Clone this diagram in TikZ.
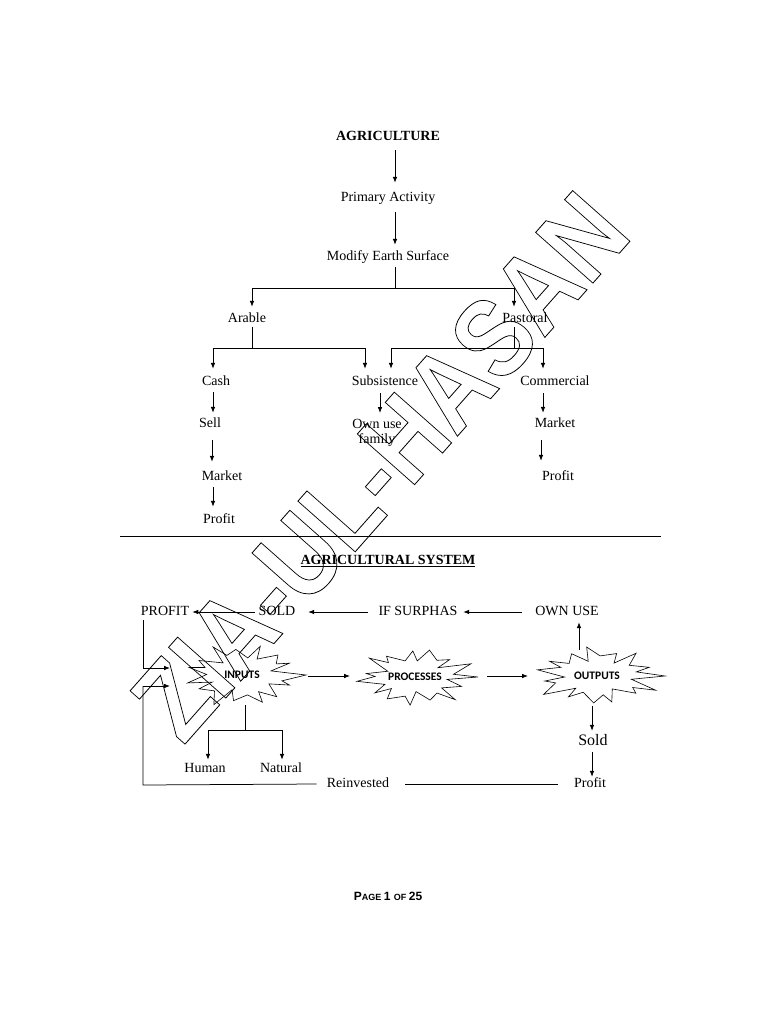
\documentclass[tikz,border=0pt]{standalone}
\usepackage{fontspec}
\setmainfont{Liberation Serif}
\newfontfamily\burstfont{Carlito}
\newfontfamily\wmfont{Liberation Sans}
\usetikzlibrary{arrows.meta,calc}
\tikzset{
  lbl/.style={font=\fontsize{14}{15}\selectfont, inner sep=0pt, text height=10pt, text depth=3pt},
  ttl/.style={lbl, font=\bfseries\fontsize{14}{15}\selectfont},
  ln/.style={line width=0.75pt, draw=black},
  arr/.style={ln, -{Latex[length=6pt,width=4.6pt]}},
  bline/.style={line width=0.6pt, draw=black, line join=miter},
  btext/.style={font=\burstfont\bfseries\fontsize{11.5}{13}\selectfont, inner sep=0pt},
}
% irregular starburst outline: #1 centre, #2 x radius, #3 y radius, #4 phase
\newcommand\drawburst[4]{%
  \draw[bline] ([shift={(0:#2 and #3)}]#1)
    \foreach \k [evaluate=\k as \ang using {\k*360/30+4*sin(\k*97+#4)},
                 evaluate=\k as \fac using {mod(\k,2)==1 ? 0.56+0.09*sin(\k*71+#4) : 1-0.22*abs(sin(\k*53+#4))}]
      in {1,...,29} { -- ([shift={(\ang:{#2*\fac} and {#3*\fac})}]#1) } -- cycle;
}
\begin{document}
\begin{tikzpicture}[x=1pt,y=-1pt]
\useasboundingbox (0,0) rectangle (768,1024);
\fill[white] (0,0) rectangle (768,1024);

% ---------- top tree ----------
\node[ttl] (agri) at (388,137) {AGRICULTURE};
\node[lbl] (prim) at (388,198) {Primary Activity};
\node[lbl] (mod) at (388,257) {Modify Earth Surface};
\node[lbl] (arable) at (247,319) {Arable};
\node[lbl] (past) at (525,319) {Pastoral};
\node[lbl] (cash) at (216,382) {Cash};
\node[lbl] (subs) at (385,382) {Subsistence};
\node[lbl] (comm) at (555,382) {Commercial};
\node[lbl] (sell) at (210,424) {Sell};
\node[font=\fontsize{14}{15}\selectfont, inner sep=0pt, align=center, anchor=north] (own) at (377,419) {Own use\\family};
\node[lbl] (mkt1) at (222,477) {Market};
\node[lbl] (prof1) at (219,520) {Profit};
\node[lbl] (mkt2) at (555,424) {Market};
\node[lbl] (prof2) at (558,477) {Profit};

\coordinate (j1) at (395,288);
\coordinate (j2) at (252,348);
\coordinate (j3) at (514,348);

\draw[arr] ([xshift=7pt,yshift=-6.5pt]agri.south) -- ([xshift=7pt,yshift=8.5pt]prim.north);
\draw[arr] ([xshift=7pt,yshift=-7.5pt]prim.south) -- ([xshift=7pt,yshift=5.5pt]mod.north);
\draw[ln] ([xshift=7pt,yshift=-3.5pt]mod.south) -- (j1);
\draw[arr] (j1) -| ([xshift=5pt,yshift=5.5pt]arable.north);
\draw[arr] (j1) -| ([xshift=-11pt,yshift=5.5pt]past.north);
\draw[ln] ([xshift=5pt,yshift=-1.5pt]arable.south) -- (j2);
\draw[arr] (j2) -| ([xshift=-3pt,yshift=6.5pt]cash.north);
\draw[arr] (j2) -| ([xshift=-20pt,yshift=6.5pt]subs.north);
\draw[ln] ([xshift=-11pt,yshift=-1.5pt]past.south) -- (j3);
\draw[arr] (j3) -| ([xshift=6pt,yshift=6.5pt]subs.north);
\draw[arr] (j3) -| ([xshift=-12pt,yshift=6.5pt]comm.north);
\draw[arr] ([xshift=-3pt,yshift=-3.5pt]cash.south) -- ([xshift=3pt,yshift=4.5pt]sell.north);
\draw[arr] ([xshift=2pt,yshift=-9.5pt]sell.south) -- ([xshift=-10pt,yshift=8.5pt]mkt1.north);
\draw[arr] ([xshift=-9pt,yshift=-3.5pt]mkt1.south) -- ([xshift=-6pt,yshift=6.5pt]prof1.north);
\draw[arr] ([xshift=-5pt,yshift=-4.5pt]subs.south) -- ([xshift=3pt,yshift=6pt]own.north);
\draw[arr] ([xshift=-12pt,yshift=-4.5pt]comm.south) -- ([xshift=-12pt,yshift=4.5pt]mkt2.north);
\draw[arr] ([xshift=-14pt,yshift=-9.5pt]mkt2.south) -- ([xshift=-17pt,yshift=9.5pt]prof2.north);

% separator
\coordinate (sepL) at (120,536);
\coordinate (sepR) at (661,536);
\draw[line width=0.9pt] (sepL) -- (sepR);

% ---------- agricultural system ----------
\node[ttl] (sys) at (388,561) {\underline{AGRICULTURAL SYSTEM}};
\node[lbl] (profL) at (165,612) {PROFIT};
\node[lbl] (soldU) at (277,612) {SOLD};
\node[lbl] (ifs) at (418,612) {IF SURPHAS};
\node[lbl] (ownuse) at (567,612) {OWN USE};

\node[btext] (inputs) at (242,675) {INPUTS};
\node[btext] (proc) at (415,677) {PROCESSES};
\node[btext] (outp) at (597,676) {OUTPUTS};
\drawburst{inputs.center}{64}{33}{10}
\drawburst{proc.center}{63}{31}{140}
\drawburst{outp.center}{68}{31}{260}

\node[lbl] (human) at (205,769) {Human};
\node[lbl] (natural) at (281,769) {Natural};
\node[lbl, font=\fontsize{16}{17}\selectfont] (sold2) at (593,742) {Sold};
\node[lbl] (profR) at (590,784) {Profit};
\node[lbl] (reinv) at (358,784) {Reinvested};

\draw[arr] ([xshift=-4pt]soldU.west) -- ([xshift=3pt]profL.east);
\draw[arr] ([xshift=-10.5pt]ifs.west) -- ([xshift=12.7pt]soldU.east);
\draw[arr] ([xshift=-13.3pt]ownuse.west) -- ([xshift=5.5pt]ifs.east);
\draw[arr] ([xshift=-18pt,yshift=26pt]outp.center) -- ([xshift=12pt,yshift=-3.5pt]ownuse.south);
\draw[arr] ([xshift=66pt,yshift=-1pt]inputs.center) -- ([xshift=-65pt,yshift=1pt]proc.center);
\draw[arr] ([xshift=72pt,yshift=1pt]proc.center) -- ([xshift=-69pt]outp.center);
\draw[arr] ([xshift=-5pt,yshift=-30pt]outp.center) -- ([xshift=-1pt,yshift=4.5pt]sold2.north);
\draw[arr] ([xshift=-1pt,yshift=-3.5pt]sold2.south) -- ([xshift=2pt,yshift=0.5pt]profR.north);

\coordinate (j4) at (245,730);
\draw[ln] ([xshift=3pt,yshift=-30pt]inputs.center) -- (j4);
\draw[arr] (j4) -| ([xshift=3pt,yshift=2.5pt]human.north);
\draw[arr] (j4) -| ([xshift=1pt,yshift=2.5pt]natural.north);

\coordinate (c1) at (143,668);
\coordinate (c2) at (143,785);
\coordinate (c3) at (143,686);
\draw[ln] ([xshift=-22pt,yshift=-1.5pt]profL.south) -- (c1);
\draw[arr] (c1) -- ([xshift=-72pt,yshift=7pt]inputs.center);
\draw[ln] ([xshift=-16pt]profR.west) -- ([xshift=16pt]reinv.east);
\draw[ln] ([xshift=-10pt]reinv.west) -- (c2) -- (c3);
\draw[arr] (c3) -- ([xshift=-72pt,yshift=-11pt]inputs.center);

% footer
\node[inner sep=0pt, font=\wmfont\bfseries] (page) at (388,896)
  {{\fontsize{12}{13}\selectfont P}{\fontsize{9}{13}\selectfont AGE }{\fontsize{12}{13}\selectfont 1 }{\fontsize{9}{13}\selectfont OF }{\fontsize{12}{13}\selectfont 25}};

% watermark (outlined text)
\begin{scope}[shift={(380,466)}]
\node[rotate=48.5, yscale=1.17, transform shape, inner sep=0pt, font=\wmfont\bfseries\fontsize{95}{95}\selectfont] (wm) at (0,0)
  {\special{pdf:literal direct 1 Tr 0.7 w}ZIA-UL-HASAN\special{pdf:literal direct 0 Tr}};
\end{scope}
\end{tikzpicture}
\end{document}
